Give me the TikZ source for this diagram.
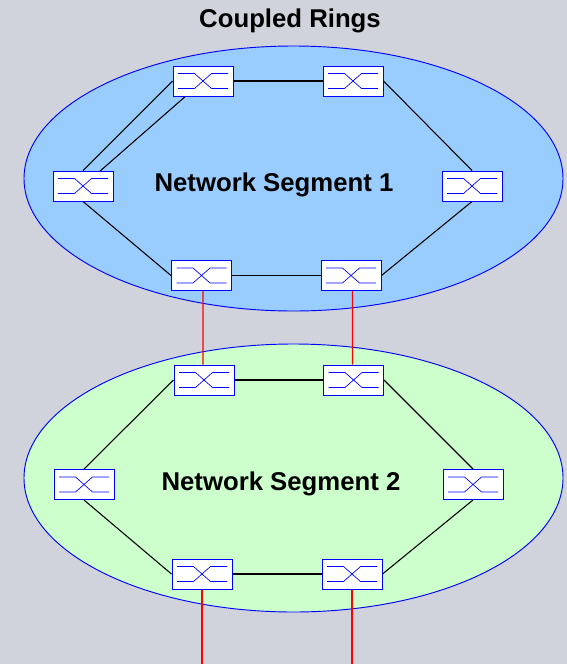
\documentclass[tikz,border=0pt]{standalone}
\usepackage{fontspec}
\setmainfont{Liberation Sans}
\definecolor{pagegrey}{HTML}{D0D3DB}
\definecolor{segblue}{HTML}{99CCFF}
\definecolor{seggreen}{HTML}{CCFFCC}
\tikzset{
  segment/.style={draw=blue,line width=.7pt},
  switchbox/.style={draw=blue,fill=white,line width=.75pt,minimum width=45pt,minimum height=22.5pt,inner sep=0pt},
  crossing/.style={draw=blue,line width=.5pt},
  ringlink/.style={draw=black,line width=.8pt},
  coupling/.style={draw=red,line width=.9pt},
  heading/.style={font=\fontsize{19.3}{22}\selectfont\bfseries}
}
\newcommand{\switchnode}[3]{
  \node[switchbox] (#1) at (#2,#3) {};
  \draw[crossing,shift={(#1.center)}] (-25,-7.5) -- (-8.5,-7.5) -- (8.5,7.5) -- (25,7.5);
  \draw[crossing,shift={(#1.center)}] (-25,7.5) -- (-8.5,7.5) -- (8.5,-7.5) -- (25,-7.5);
}
\begin{document}
\begin{tikzpicture}[x=.75pt,y=-.75pt]
  \useasboundingbox[fill=pagegrey] (0,0) rectangle (567,664);
  \draw[segment,fill=segblue] (293.5,178.5) ellipse (269.5 and 132.5);
  \draw[segment,fill=seggreen] (293.5,478) ellipse (269.5 and 134);
  \node[heading] (title) at (290,21) {Coupled Rings};
  \node[heading] (seglabela) at (274,185) {Network Segment 1};
  \node[heading] (seglabelb) at (281,484) {Network Segment 2};
  \coordinate (exitl) at (202,664);
  \coordinate (exitr) at (352,664);
  \draw[ringlink] (203,81) -- (353,81);
  \draw[ringlink] (83,186) -- (203,81);
  \switchnode{aa}{203}{81}
  \switchnode{ab}{353}{81}
  \switchnode{ac}{472}{186}
  \switchnode{ad}{351}{275.5}
  \switchnode{ae}{201.5}{275.5}
  \switchnode{af}{83}{186}
  \switchnode{ba}{204}{380}
  \switchnode{bb}{353.5}{380}
  \switchnode{bc}{473}{484.5}
  \switchnode{bd}{352}{574}
  \switchnode{be}{202}{574}
  \switchnode{bf}{84}{484.5}
  \draw[ringlink] (aa.east) -- (ab.west);
  \draw[ringlink] (ab.east) -- (ac.north);
  \draw[ringlink] (ac.south) -- (ad.east);
  \draw[ringlink] (ad.west) -- (ae.east);
  \draw[ringlink] (ae.west) -- (af.south);
  \draw[ringlink] (af.north) -- (aa.west);
  \draw[ringlink] (ba.east) -- (bb.west);
  \draw[ringlink] (bb.east) -- (bc.north);
  \draw[ringlink] (bc.south) -- (bd.east);
  \draw[ringlink] (bd.west) -- (be.east);
  \draw[ringlink] (be.west) -- (bf.south);
  \draw[ringlink] (bf.north) -- (ba.west);
  \draw[coupling] ([xshift=1.1pt]ae.south) -- ([xshift=-.75pt]ba.north);
  \draw[coupling] ([xshift=1.1pt]ad.south) -- ([xshift=-.75pt]bb.north);
  \draw[coupling] (be.south) -- (exitl);
  \draw[coupling] (bd.south) -- (exitr);
\end{tikzpicture}
\end{document}
